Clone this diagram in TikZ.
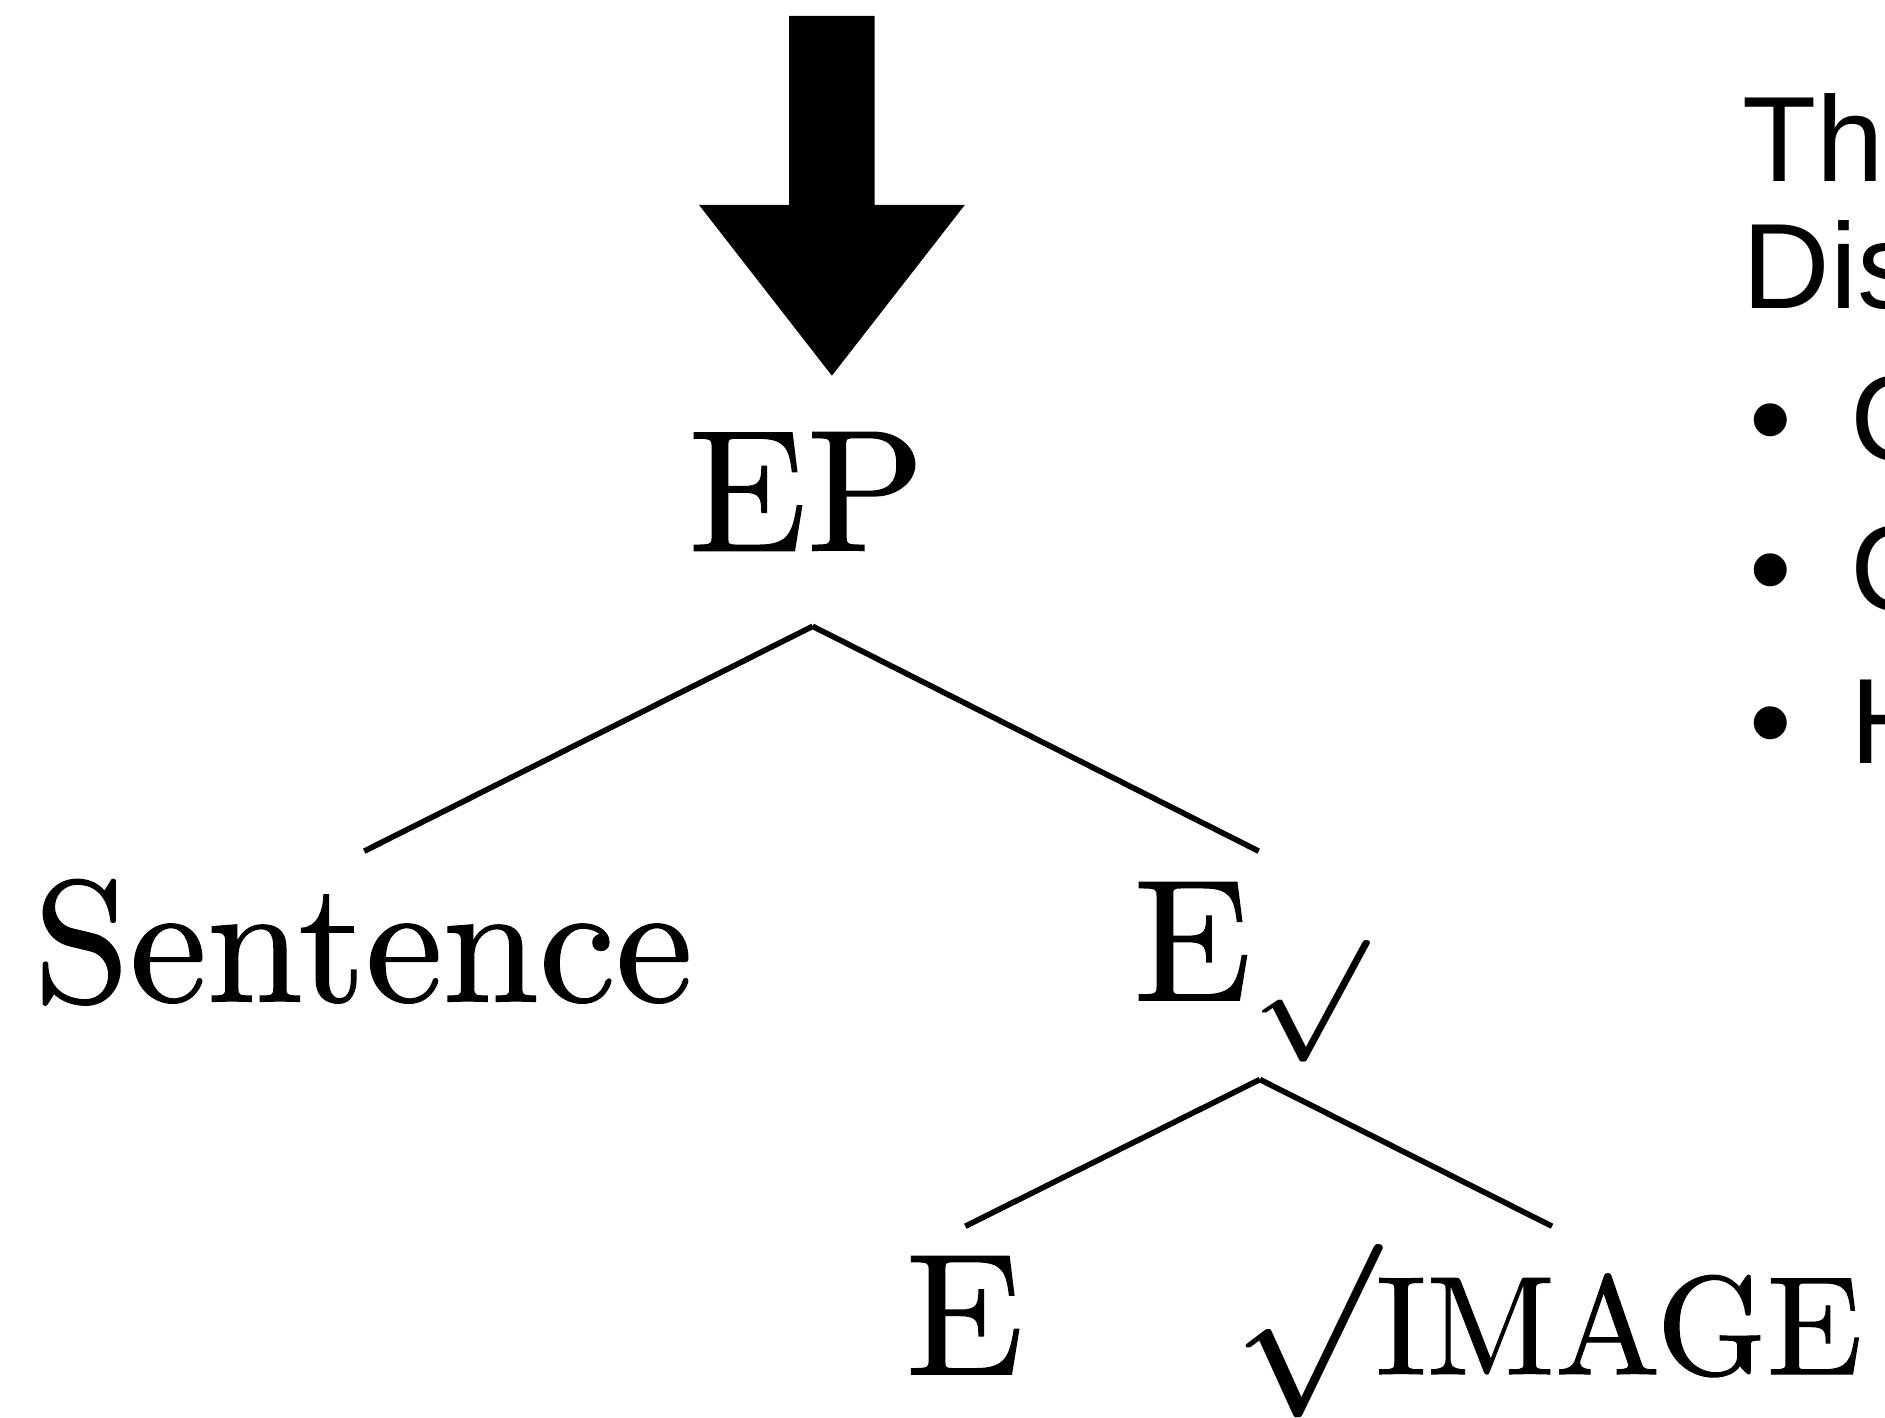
\documentclass[tikz,border=0pt]{standalone}
\usepackage{fix-cm}
\usepackage{graphicx}
\usepackage{fontspec}
\newfontfamily\sidesans{Liberation Sans}
\newfontfamily\treeserif{lmroman10-regular.otf}[FakeBold=0.8]
\usetikzlibrary{calc}
\newcommand\treefs{\treeserif\fontsize{86.6}{90}\selectfont}
\newcommand\subfs{\fontsize{60.7}{62}\selectfont}
\newcommand\capfs{\fontsize{70.2}{71}\selectfont}
\newcommand\sidefs{\sidesans\fontsize{60.7}{62}\selectfont}
% a surd drawn twice, slightly shifted, for a heavier stroke
\newcommand\heavysurd[1]{\rlap{\kern#1$\surd$}$\surd$}
\begin{document}
\begin{tikzpicture}[x=0.6011pt,y=-0.6011pt,
  lbl/.style={inner sep=0pt, outer sep=0pt, font=\treefs},
  side/.style={inner sep=0pt, outer sep=0pt, font=\sidefs},
  edge/.style={line width=2.8pt, line cap=butt}]
\useasboundingbox (0,0) rectangle (1568,1179);
\clip (0,0) rectangle (1568,1179);

% block arrow
\coordinate (tip) at (692,312.5);
\fill (tip) -- ++(-110.5,-142) -- ++(75,0) -- ++(0,-157.2) -- ++(71,0)
      -- ++(0,157.2) -- ++(75,0) -- cycle;

% tree labels
\node[lbl, anchor=base] (EP) at (671,458) {EP};
\node[lbl, anchor=base] (S) at (302,833) {Sentence};
\node[lbl, anchor=base west] (Es) at (943,832)
  {E\kern0.5pt\raisebox{-15.7pt}{\subfs\scalebox{1.12}[1]{\heavysurd{0.9pt}}}};
\node[lbl, anchor=base] (E) at (802.5,1143) {E};
\node[lbl, anchor=base west] (SI) at (1026,1143)
  {\heavysurd{1.2pt}\kern-1pt{\capfs IMAGE}};

% tree edges
\draw[edge] ($(EP.base)+(5,63)$) -- ($(S.base)+(1,-125)$);
\draw[edge] ($(EP.base)+(5,63)$) -- ($(Es.base west)+(104,-124)$);
\draw[edge] ($(Es.base west)+(105,66)$) -- ($(E.base)+(0.5,-123)$);
\draw[edge] ($(Es.base west)+(105,66)$) -- ($(SI.base west)+(265,-123)$);

% side text (clipped at right edge, as in the reference)
\node[side, anchor=base west] (t1) at (1449.5,150.6) {The};
\node[side, anchor=base west] (t2) at (1449.5,257) {Dis};
\node[side, anchor=base] (b1) at (1473,383) {•};
\node[side, anchor=base west] (c1) at (1539,383) {C};
\node[side, anchor=base] (b2) at (1473,508) {•};
\node[side, anchor=base west] (c2) at (1539,508) {C};
\node[side, anchor=base] (b3) at (1473,635) {•};
\node[side, anchor=base west] (h3) at (1539,635) {H};
\end{tikzpicture}
\end{document}
